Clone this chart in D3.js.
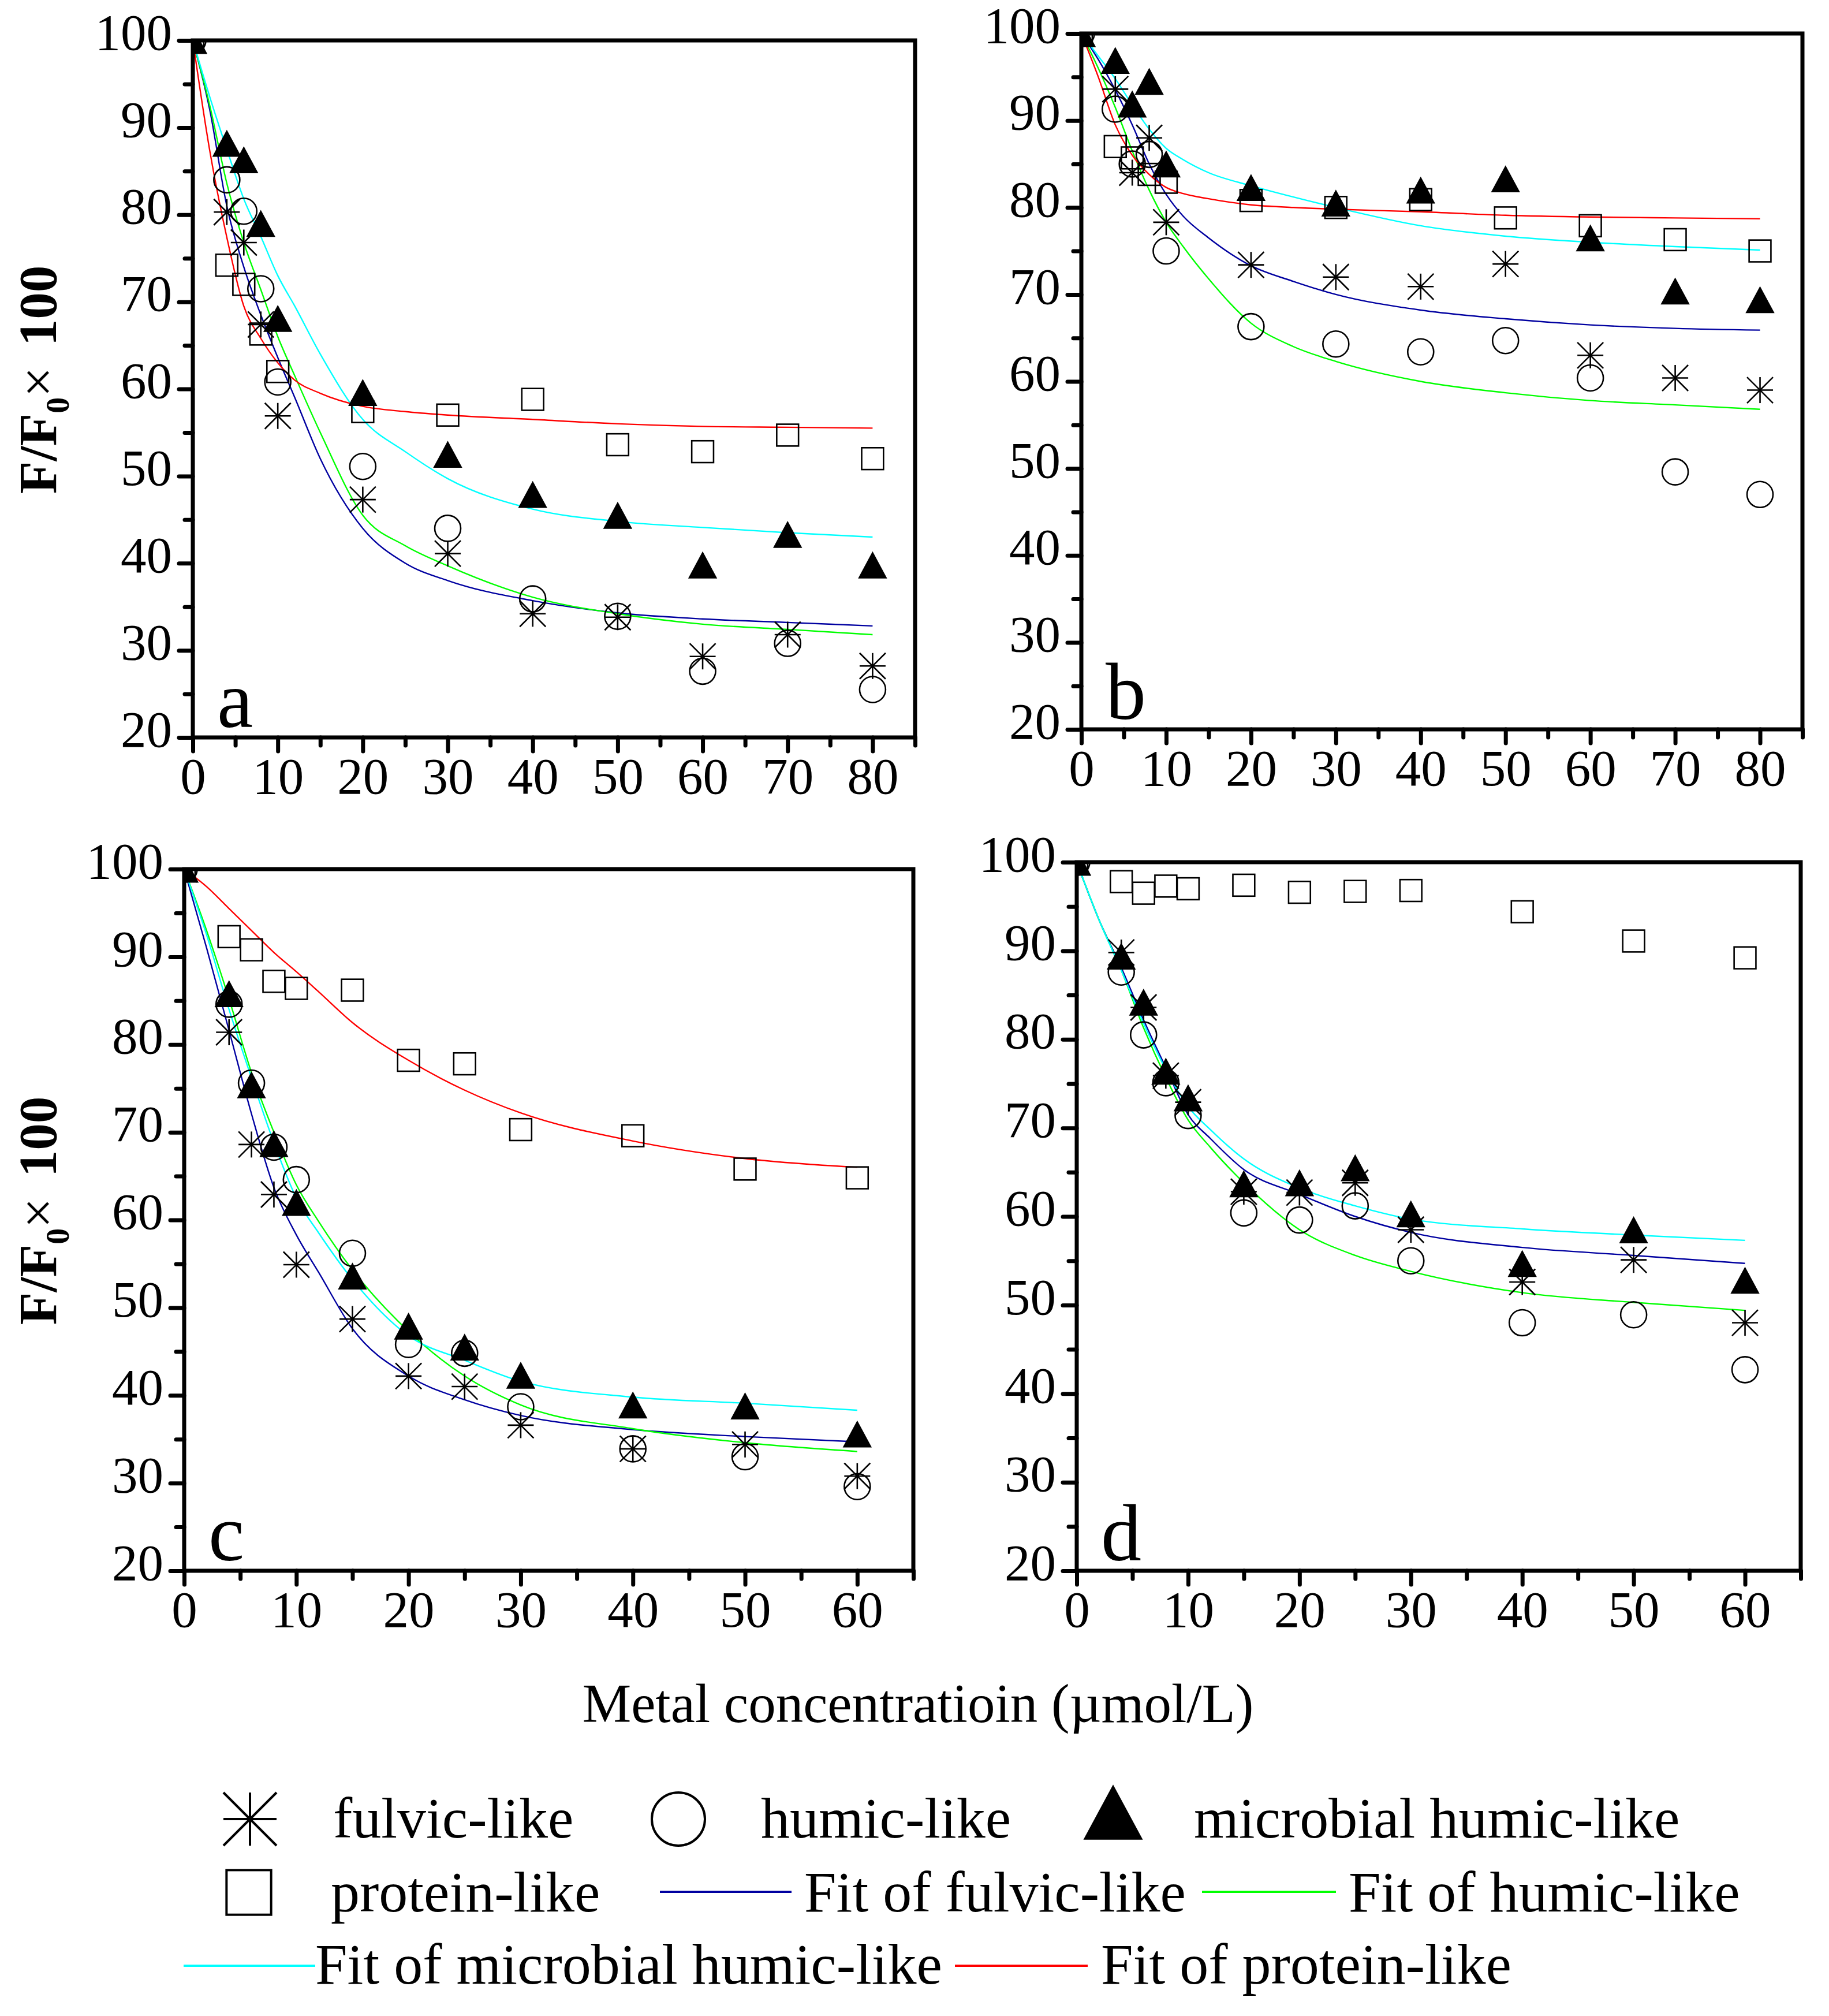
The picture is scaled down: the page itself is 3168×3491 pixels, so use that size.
<!DOCTYPE html>
<html>
<head>
<meta charset="utf-8">
<script src="https://cdn.jsdelivr.net/npm/d3@7"></script>
<style>
  body { margin: 0; background: #fff; }
  text { font-family: "Liberation Serif", "Times New Roman", serif; fill: #000; }
</style>
</head>
<body>
<div id="chart"></div>
<script>
// Metal concentrations (umol/L) of the measured points
var concAB = [0, 4, 6, 8, 10, 20, 30, 40, 50, 60, 70, 80];
var concCD = [0, 4, 6, 8, 10, 15, 20, 25, 30, 40, 50, 60];

// Measured F/F0 x 100, panel a
var fulvicA = [100, 80.3, 76.8, 67.4, 56.9, 47.3, 41.1, 34.2, 33.8, 29.3, 31.8, 28.2];
var humicA = [100, 84.0, 80.4, 71.5, 60.8, 51.1, 44.0, 35.9, 33.9, 27.6, 30.8, 25.5];
var microbialA = [100, 88.2, 86.3, 79.0, 68.1, 59.6, 52.5, 47.9, 45.5, 39.8, 43.3, 39.8];
var proteinA = [100, 74.2, 72.0, 66.3, 62.0, 57.4, 57.0, 58.8, 53.6, 52.8, 54.7, 52.0];

// panel b
var fulvicB = [100, 93.6, 84.0, 88.0, 78.3, 73.4, 72.0, 70.9, 73.5, 63.0, 60.4, 59.0];
var humicB = [100, 91.3, 85.0, 86.1, 75.0, 66.3, 64.3, 63.4, 64.7, 60.4, 49.6, 47.0];
var microbialB = [100, 96.9, 91.9, 94.5, 85.0, 82.3, 80.5, 82.0, 83.3, 76.5, 70.4, 69.4];
var proteinB = [100, 87.0, 85.7, 83.8, 82.9, 80.8, 80.0, 80.9, 78.8, 77.9, 76.3, 75.0];

// panel c
var fulvicC = [100, 81.4, 68.6, 62.9, 54.9, 48.7, 42.2, 41.0, 36.6, 33.9, 34.4, 30.8];
var humicC = [100, 84.6, 75.6, 68.3, 64.6, 56.2, 45.8, 44.8, 38.7, 33.9, 33.0, 29.6];
var microbialC = [100, 85.8, 75.4, 68.7, 62.0, 53.6, 47.9, 45.5, 42.3, 38.9, 38.8, 35.6];
var proteinC = [100, 92.3, 90.8, 87.2, 86.4, 86.2, 78.2, 77.8, 70.3, 69.6, 65.8, 64.8];

// panel d
var fulvicD = [100, 89.8, 83.6, 75.9, 72.9, 62.8, 62.7, 63.8, 58.5, 52.6, 55.1, 48.0];
var humicD = [100, 87.6, 80.5, 75.1, 71.4, 60.4, 59.6, 61.2, 55.0, 48.0, 48.9, 42.7];
var microbialD = [100, 89.4, 84.2, 76.4, 73.4, 63.7, 63.8, 65.5, 60.3, 54.7, 58.5, 52.8];
var proteinD = [100, 97.8, 96.5, 97.3, 97.0, 97.4, 96.6, 96.7, 96.8, 94.4, 91.1, 89.2];

// Fitted curves at these concentrations
var fitXAB = [0, 2, 4, 6, 8, 10, 12, 15, 20, 25, 30, 40, 50, 60, 70, 80];
var fitXCD = [0, 2, 4, 6, 8, 10, 12, 15, 20, 25, 30, 40, 50, 60];

var fitFulvicA = [100, 92, 81, 74, 68.5, 63.6, 59, 52, 44, 40, 38, 35.7, 34.3, 33.6, 33.2, 32.8];
var fitHumicA = [100, 92.5, 83.6, 76.8, 71.4, 66, 61.5, 55, 45.5, 42, 39.7, 36.1, 34.2, 33, 32.4, 31.8];
var fitMicrobialA = [100, 93.5, 87.5, 81.8, 77.5, 73, 69.5, 64, 56.5, 52.8, 49.7, 46.2, 44.8, 44.1, 43.5, 43.0];
var fitProteinA = [100, 87.3, 77.4, 69.5, 65.8, 63, 61, 59.5, 58, 57.4, 57, 56.5, 56, 55.7, 55.6, 55.5];

var fitFulvicB = [100, 97, 93.5, 89.5, 85, 81.5, 79, 76.5, 73.3, 71.5, 70, 68.2, 67.2, 66.5, 66.1, 65.9];
var fitHumicB = [100, 96, 91.5, 86.5, 82, 78.3, 75.5, 71.8, 66.7, 64, 62.3, 60, 58.7, 57.8, 57.3, 56.8];
var fitMicrobialB = [100, 97.4, 94.8, 91.8, 89, 86.8, 85.5, 84, 82.5, 81.2, 80, 77.9, 76.7, 76, 75.5, 75.1];
var fitProteinB = [100, 95, 89.5, 86, 83.8, 82.3, 81.6, 81, 80.3, 80, 79.8, 79.5, 79.1, 78.9, 78.8, 78.7];

var fitFulvicC = [100, 91, 81.6, 72.1, 63.7, 58.3, 54, 47.6, 42.2, 39.5, 37.7, 36.1, 35.3, 34.7];
var fitHumicC = [100, 93, 85.2, 76.8, 70, 64, 59.8, 54.3, 47.3, 42.2, 38.9, 36.2, 34.6, 33.6];
var fitMicrobialC = [100, 92.5, 84, 76.2, 68.8, 62.5, 58.5, 53.2, 46.8, 44.0, 41.6, 39.8, 39.1, 38.3];
var fitProteinC = [100, 98, 95.5, 93, 90.5, 88.3, 86, 82.5, 78.2, 74.8, 72.2, 69, 67, 66];

var fitFulvicD = [100, 93.5, 88.1, 82.2, 76.8, 71.5, 68.8, 65.3, 62.5, 60, 58.2, 56.5, 55.6, 54.7];
var fitHumicD = [100, 93.5, 87.8, 81.3, 75.7, 70.9, 67.8, 63.8, 58.5, 55.6, 53.8, 51.4, 50.3, 49.4];
var fitMicrobialD = [100, 93.5, 87.8, 81.8, 76.6, 72.4, 69.8, 66.5, 63.2, 61.2, 59.7, 58.6, 57.9, 57.3];

// Axis ticks
var yTicks = [20, 30, 40, 50, 60, 70, 80, 90, 100];
var xTicksAB = [0, 10, 20, 30, 40, 50, 60, 70, 80];
var xTicksCD = [0, 10, 20, 30, 40, 50, 60];

var colorFulvic = "#0000a0";
var colorHumic = "#00ff00";
var colorMicrobial = "#00ffff";
var colorProtein = "#ff0000";

var width = 3168;
var height = 3491;

var svg = d3.select("#chart").append("svg")
  .attr("width", width)
  .attr("height", height);

svg.append("rect").attr("width", width).attr("height", height).attr("fill", "#fff");

// panel frames in page pixels
var panels = [
  { id: "a", left: 334, right: 1585, top: 70, bottom: 1277, xMax: 85, xTicks: xTicksAB, conc: concAB, fitX: fitXAB,
    pts: [fulvicA, humicA, microbialA, proteinA],
    fits: [[fitFulvicA, colorFulvic], [fitHumicA, colorHumic], [fitMicrobialA, colorMicrobial], [fitProteinA, colorProtein]],
    yTitle: true },
  { id: "b", left: 1873, right: 3122, top: 58, bottom: 1263, xMax: 85, xTicks: xTicksAB, conc: concAB, fitX: fitXAB,
    pts: [fulvicB, humicB, microbialB, proteinB],
    fits: [[fitFulvicB, colorFulvic], [fitHumicB, colorHumic], [fitMicrobialB, colorMicrobial], [fitProteinB, colorProtein]],
    yTitle: false },
  { id: "c", left: 319, right: 1582, top: 1505, bottom: 2720, xMax: 65, xTicks: xTicksCD, conc: concCD, fitX: fitXCD,
    pts: [fulvicC, humicC, microbialC, proteinC],
    fits: [[fitFulvicC, colorFulvic], [fitHumicC, colorHumic], [fitMicrobialC, colorMicrobial], [fitProteinC, colorProtein]],
    yTitle: true },
  { id: "d", left: 1865, right: 3119, top: 1493, bottom: 2720, xMax: 65, xTicks: xTicksCD, conc: concCD, fitX: fitXCD,
    pts: [fulvicD, humicD, microbialD, proteinD],
    fits: [[fitFulvicD, colorFulvic], [fitHumicD, colorHumic], [fitMicrobialD, colorMicrobial]],
    yTitle: false }
];

// marker drawers, s = size of the symbol box
function drawStar(g, s, sw) {
  var h = s / 2;
  [[0, -h, 0, h], [-h, 0, h, 0], [-h, -h, h, h], [-h, h, h, -h]].forEach(function (l) {
    g.append("line").attr("x1", l[0]).attr("y1", l[1]).attr("x2", l[2]).attr("y2", l[3])
      .attr("stroke", "#000").attr("stroke-width", sw);
  });
}
function drawCircle(g, s, sw) {
  g.append("circle").attr("r", s / 2).attr("fill", "none").attr("stroke", "#000").attr("stroke-width", sw);
}
function drawTriangle(g, s, sw) {
  var w = s * 1.12, h = s * 1.04;
  g.append("path").attr("d", "M" + (-w / 2) + "," + (h / 2) + "L" + (w / 2) + "," + (h / 2) + "L0," + (-h / 2) + "Z")
    .attr("fill", "#000");
}
function drawSquare(g, s, sw) {
  var q = s * 0.84;
  g.append("rect").attr("x", -q / 2).attr("y", -q / 2).attr("width", q).attr("height", q)
    .attr("fill", "none").attr("stroke", "#000").attr("stroke-width", sw);
}
var drawers = [drawStar, drawCircle, drawTriangle, drawSquare];

panels.forEach(function (p) {
  var x = d3.scaleLinear().domain([0, p.xMax]).range([p.left, p.right]);
  var y = d3.scaleLinear().domain([20, 100]).range([p.bottom, p.top]);
  var g = svg.append("g");

  // minor ticks every 5
  var minorX = d3.range(5, p.xMax + 1, 10);
  var minorY = d3.range(25, 100, 10);
  g.append("g").attr("transform", "translate(0," + p.bottom + ")")
    .call(d3.axisBottom(x).tickValues(minorX).tickSize(14).tickFormat(""));
  g.append("g").attr("transform", "translate(" + p.left + ",0)")
    .call(d3.axisLeft(y).tickValues(minorY).tickSize(14).tickFormat(""));

  // major ticks and labels
  var ax = g.append("g").attr("transform", "translate(0," + p.bottom + ")")
    .call(d3.axisBottom(x).tickValues(p.xTicks).tickSize(24).tickPadding(10).tickFormat(d3.format("d")));
  ax.selectAll("text").attr("font-size", 89).attr("font-family", "Liberation Serif");
  var ay = g.append("g").attr("transform", "translate(" + p.left + ",0)")
    .call(d3.axisLeft(y).tickValues(yTicks).tickSize(24).tickPadding(12).tickFormat(d3.format("d")));
  ay.selectAll("text").attr("font-size", 89).attr("font-family", "Liberation Serif").attr("dy", "0.17em");

  g.selectAll(".domain").remove();
  g.selectAll(".tick line").attr("stroke", "#000").attr("stroke-width", 7).attr("stroke-linecap", "round");

  // clipped plot area
  var clipId = "clip-" + p.id;
  svg.append("clipPath").attr("id", clipId).append("rect")
    .attr("x", p.left).attr("y", p.top).attr("width", p.right - p.left).attr("height", p.bottom - p.top);
  var plot = g.append("g").attr("clip-path", "url(#" + clipId + ")");

  // fitted curves
  var line = d3.line()
    .x(function (d) { return x(d[0]); })
    .y(function (d) { return y(d[1]); })
    .curve(d3.curveMonotoneX);
  p.fits.forEach(function (f) {
    plot.append("path")
      .attr("d", line(p.fitX.map(function (v, i) { return [v, f[0][i]]; })))
      .attr("fill", "none")
      .attr("stroke", f[1])
      .attr("stroke-width", 2.4);
  });

  // measured points: star, circle, triangle, square
  p.pts.forEach(function (vals, k) {
    vals.forEach(function (v, i) {
      var m = plot.append("g").attr("transform", "translate(" + x(p.conc[i]) + "," + y(v) + ")");
      drawers[k](m, 45, 2.6);
    });
  });

  // frame
  g.append("rect")
    .attr("x", p.left).attr("y", p.top)
    .attr("width", p.right - p.left).attr("height", p.bottom - p.top)
    .attr("fill", "none").attr("stroke", "#000").attr("stroke-width", 7);

  // panel letter
  g.append("text")
    .attr("x", p.left + 42).attr("y", p.bottom - 18)
    .attr("font-size", 140)
    .text(p.id);

  if (p.yTitle) {
    var cy = (p.top + p.bottom) / 2 - 16;
    var t = g.append("text")
      .attr("transform", "translate(97," + cy + ") rotate(-90)")
      .attr("text-anchor", "middle")
      .attr("font-size", 93);
    t.append("tspan").attr("font-weight", "bold").text("F/F");
    t.append("tspan").attr("font-weight", "bold").attr("font-size", 56).attr("dy", 22).text("0");
    t.append("tspan").attr("dy", -22).text("\u00d7");
    t.append("tspan").attr("font-weight", "bold").attr("dx", 36).text("100");
  }
});

// shared x title
svg.append("text")
  .attr("x", 1590).attr("y", 2982)
  .attr("text-anchor", "middle")
  .attr("font-size", 95)
  .text("Metal concentratioin (\u00b5mol/L)");

// legend
var legendItems = [
  { kind: 0, label: "fulvic-like", sx: 433, sy: 3150, tx: 577, ty: 3182 },
  { kind: 1, label: "humic-like", sx: 1175, sy: 3150, tx: 1318, ty: 3182 },
  { kind: 2, label: "microbial humic-like", sx: 1928, sy: 3138, tx: 2068, ty: 3182 },
  { kind: 3, label: "protein-like", sx: 431, sy: 3277, tx: 573, ty: 3310 },
  { line: colorFulvic, label: "Fit of fulvic-like", x1: 1143, x2: 1371, sy: 3276, tx: 1393, ty: 3310 },
  { line: colorHumic, label: "Fit of humic-like", x1: 2082, x2: 2314, sy: 3276, tx: 2336, ty: 3310 },
  { line: colorMicrobial, label: "Fit of microbial humic-like", x1: 318, x2: 546, sy: 3404, tx: 546, ty: 3435 },
  { line: colorProtein, label: "Fit of protein-like", x1: 1654, x2: 1884, sy: 3404, tx: 1907, ty: 3435 }
];

var legend = svg.append("g");
legendItems.forEach(function (it) {
  if (it.line) {
    legend.append("line")
      .attr("x1", it.x1).attr("x2", it.x2).attr("y1", it.sy).attr("y2", it.sy)
      .attr("stroke", it.line).attr("stroke-width", 4);
  } else {
    var m = legend.append("g").attr("transform", "translate(" + it.sx + "," + it.sy + ")");
    drawers[it.kind](m, 92, 4);
  }
  legend.append("text")
    .attr("x", it.tx).attr("y", it.ty)
    .attr("font-size", 100)
    .text(it.label);
});
</script>
</body>
</html>
